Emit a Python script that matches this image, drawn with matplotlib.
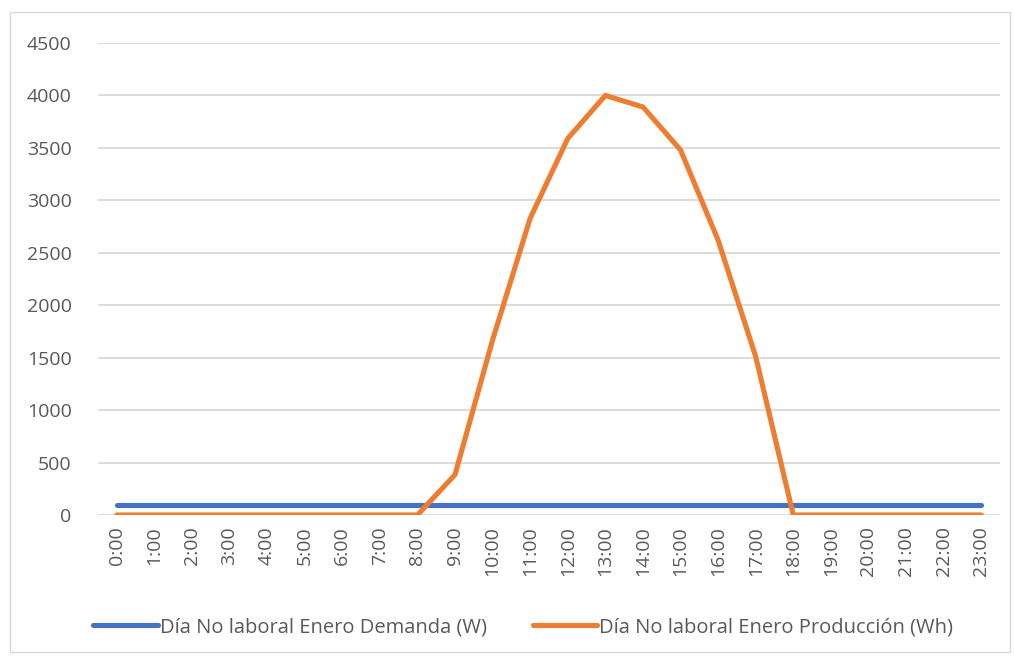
import numpy as np
import matplotlib.pyplot as plt
from matplotlib.patches import Rectangle

# hours of the day
horas = ['%d:00' % h for h in range(24)]

# demand (W), flat all day
demanda = [100] * 24

# production (Wh)
produccion = [0, 0, 0, 0, 0, 0, 0, 0, 0, 385, 1670, 2830, 3590, 4000,
              3890, 3480, 2620, 1510, 0, 0, 0, 0, 0, 0]

plt.rcParams['font.family'] = ['Open Sans', 'DejaVu Sans']

fig = plt.figure(figsize=(10.14, 6.58), dpi=100)
ax = fig.add_axes([98 / 1014, 1 - 515 / 658, 902 / 1014, 472 / 658])

x = np.arange(len(horas))
ax.plot(x, demanda, color='#4472C4', lw=3.7, solid_capstyle='round',
        label='Día No laboral Enero Demanda (W)')
ax.plot(x, produccion, color='#ED7D31', lw=3.7, solid_capstyle='round',
        solid_joinstyle='miter', label='Día No laboral Enero Producción (Wh)')

ax.set_xlim(-0.5, 23.5)
ax.set_ylim(0, 4500)
ax.set_yticks(np.arange(0, 4501, 500))
ax.set_xticks(x)
ax.set_xticklabels(horas, rotation=90)
ax.yaxis.grid(True, color='#D9D9D9', lw=1.3)
ax.set_axisbelow(True)
ax.tick_params(length=0, labelsize=14, colors='#595959')
ax.tick_params(axis='y', pad=19)
ax.tick_params(axis='x', pad=8)
for s in ax.spines.values():
    s.set_visible(False)

leg = fig.legend(loc='center', bbox_to_anchor=(0.516, 1 - 627 / 658), ncol=2,
                 frameon=False, fontsize=14.5, handlelength=3.2, handletextpad=0.1,
                 columnspacing=2.3)
for t in leg.get_texts():
    t.set_color('#595959')

# outer chart border
fig.patches.append(Rectangle((10 / 1014, 1 - 652 / 658), 1000 / 1014, 640 / 658,
                             transform=fig.transFigure, fill=False,
                             edgecolor='#D9D9D9', lw=1))

fig.savefig('out.png')
